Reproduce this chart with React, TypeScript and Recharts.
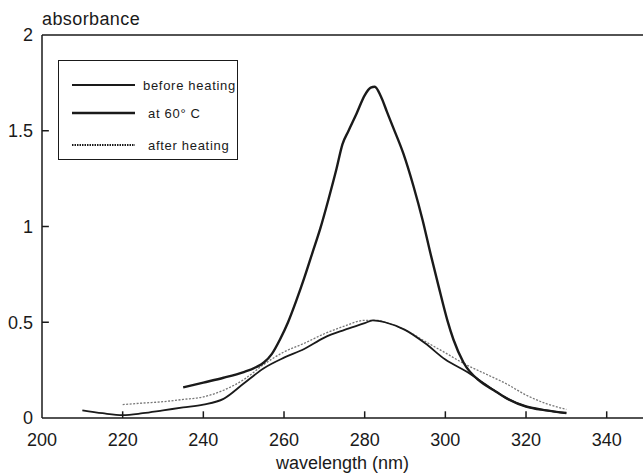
import React from 'react';
import { LineChart, Line, XAxis, YAxis, ReferenceLine } from 'recharts';

// absorbance vs wavelength (nm)
const BEFORE_NM = [210, 215, 220, 225, 230, 235, 240, 245, 250, 255, 260, 265, 270, 275, 280, 282, 285, 290, 295, 300, 305, 310, 315, 320, 325, 330];
const BEFORE_ABS = [0.04, 0.025, 0.015, 0.025, 0.04, 0.055, 0.07, 0.1, 0.18, 0.26, 0.315, 0.36, 0.42, 0.46, 0.495, 0.51, 0.5, 0.46, 0.39, 0.305, 0.245, 0.175, 0.105, 0.06, 0.04, 0.026];

const AT60_NM = [235, 240, 245, 250, 253, 255, 257, 259, 261, 263, 265, 267, 269, 271, 273, 274.5, 276, 278, 280, 281.5, 282.5, 284, 285.5, 287, 289.6, 292.1, 294.4, 296.3, 298.3, 300.5, 302, 304.5, 308.7, 312, 315, 320, 325, 330];
const AT60_ABS = [0.16, 0.185, 0.21, 0.24, 0.265, 0.29, 0.335, 0.41, 0.5, 0.61, 0.73, 0.86, 0.99, 1.14, 1.3, 1.43, 1.5, 1.59, 1.685, 1.725, 1.73, 1.68, 1.6, 1.52, 1.38, 1.21, 1.03, 0.86, 0.69, 0.51, 0.41, 0.29, 0.19, 0.145, 0.105, 0.06, 0.04, 0.026];

const AFTER_NM = [220, 225, 230, 235, 240, 245, 250, 255, 260, 265, 270, 275, 280, 283, 285, 290, 295, 300, 305, 310, 315, 320, 325, 330];
const AFTER_ABS = [0.07, 0.078, 0.085, 0.097, 0.11, 0.145, 0.2, 0.28, 0.345, 0.39, 0.44, 0.48, 0.51, 0.51, 0.5, 0.46, 0.4, 0.34, 0.28, 0.23, 0.18, 0.12, 0.075, 0.045];

const X_TICKS = [200, 220, 240, 260, 280, 300, 320, 340];
const Y_TICKS = [0, 0.5, 1, 1.5, 2];

const toRows = (nm: number[], abs: number[]) => nm.map((n, i) => ({ nm: n, abs: abs[i] }));

const before = toRows(BEFORE_NM, BEFORE_ABS);
const at60 = toRows(AT60_NM, AT60_ABS);
const after = toRows(AFTER_NM, AFTER_ABS);

const FONT = '"Liberation Sans", Arial, sans-serif';
const INK = '#1a1a1a';

const App: React.FC = () => {
  return (
    <div style={{ position: 'absolute', left: 0, top: 0, width: 643, height: 473, background: '#fff', fontFamily: FONT }}>
      <LineChart width={643} height={473} margin={{ top: 35, right: 0, bottom: 0, left: 0 }}>
        <XAxis
          type="number"
          dataKey="nm"
          domain={[200, 349]}
          ticks={X_TICKS}
          interval={0}
          allowDataOverflow
          height={55}
          tickSize={0}
          tickMargin={15}
          tick={{ fill: INK, fontSize: 18, fontFamily: FONT }}
          axisLine={{ stroke: INK, strokeWidth: 1.5 }}
          label={{ value: 'wavelength (nm)', position: 'insideBottom', offset: 4, fill: INK, fontSize: 18, fontFamily: FONT }}
        />
        <YAxis
          type="number"
          domain={[0, 2]}
          ticks={Y_TICKS}
          interval={0}
          width={42}
          tickSize={0}
          tickMargin={9}
          tickFormatter={(v: number) => String(v)}
          tick={{ fill: INK, fontSize: 18, fontFamily: FONT }}
          axisLine={{ stroke: INK, strokeWidth: 1.5 }}
        />
        <ReferenceLine y={2} stroke={INK} strokeWidth={1.5} />
        {X_TICKS.slice(1).map((t) => (
          <ReferenceLine key={`xt-${t}`} segment={[{ x: t, y: 0 }, { x: t, y: 0.035 }]} stroke={INK} strokeWidth={1.5} />
        ))}
        {[0.5, 1, 1.5].map((t) => (
          <ReferenceLine key={`yt-${t}`} segment={[{ x: 200, y: t }, { x: 201.7, y: t }]} stroke={INK} strokeWidth={1.5} />
        ))}
        <Line data={after} dataKey="abs" type="monotone" stroke="#777" strokeWidth={1.3} strokeDasharray="2 1.5" dot={false} isAnimationActive={false} />
        <Line data={before} dataKey="abs" type="monotone" stroke={INK} strokeWidth={1.8} dot={false} isAnimationActive={false} />
        <Line data={at60} dataKey="abs" type="monotone" stroke={INK} strokeWidth={2.4} dot={false} isAnimationActive={false} />
      </LineChart>

      <div style={{ position: 'absolute', left: 42, top: 9, fontSize: 18, letterSpacing: 0.4, color: INK, lineHeight: '20px' }}>absorbance</div>

      <div style={{ position: 'absolute', left: 58, top: 60, width: 180, height: 100, border: `1.5px solid ${INK}`, boxSizing: 'border-box' }}>
        <svg width={177} height={97} style={{ position: 'absolute', left: 0, top: 0 }}>
          <line x1={13} x2={76} y1={24} y2={24} stroke={INK} strokeWidth={1.8} />
          <line x1={13} x2={76} y1={52} y2={52} stroke={INK} strokeWidth={2.4} />
          <line x1={13} x2={76} y1={84} y2={84} stroke={INK} strokeWidth={1.8} strokeDasharray="1.5 1" />
          <text x={84} y={28.5} fontSize={13} letterSpacing={0.7} fill={INK} fontFamily={FONT}>before heating</text>
          <text x={89} y={56.5} fontSize={13} letterSpacing={0.7} fill={INK} fontFamily={FONT}>at 60° C</text>
          <text x={89} y={88.5} fontSize={13} letterSpacing={0.7} fill={INK} fontFamily={FONT}>after heating</text>
        </svg>
      </div>
    </div>
  );
};

export default App;
